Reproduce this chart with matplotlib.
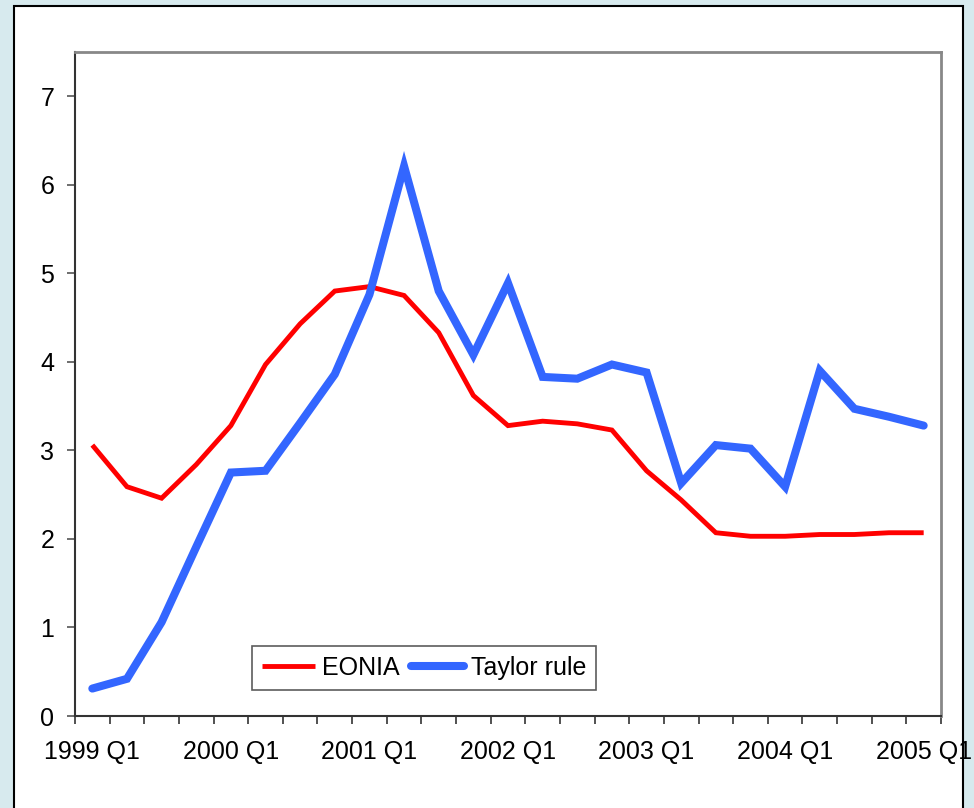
import numpy as np
import matplotlib.pyplot as plt
from matplotlib.patches import Rectangle

plt.rcParams['font.family'] = ['Liberation Sans', 'DejaVu Sans']

# quarters 1999 Q1 .. 2005 Q1
quarters = [f"{y} Q{q}" for y in range(1999, 2006) for q in range(1, 5)][:25]
eonia = [3.06, 2.59, 2.46, 2.84, 3.28, 3.97, 4.43, 4.80, 4.85, 4.75,
         4.33, 3.62, 3.28, 3.33, 3.30, 3.23, 2.77, 2.44, 2.07, 2.03,
         2.03, 2.05, 2.05, 2.07, 2.07]
taylor = [0.31, 0.42, 1.06, 1.91, 2.75, 2.77, 3.31, 3.86, 4.76, 6.21,
          4.80, 4.08, 4.89, 3.83, 3.81, 3.97, 3.88, 2.63, 3.06, 3.02,
          2.59, 3.90, 3.47, 3.38, 3.28]
label_every = 4

fig = plt.figure(figsize=(9.74, 8.08), dpi=100)
fig.patch.set_facecolor('#d7eaee')

# white chart panel (behind the axes)
panel = Rectangle((14 / 974, -0.01), (963 - 14) / 974, 1 - 6 / 808 + 0.01,
                  transform=fig.transFigure, facecolor='white',
                  edgecolor='black', linewidth=1.5, zorder=-1)
fig.patches.append(panel)

ax = fig.add_axes([75 / 974, 1 - 716 / 808, (941 - 75) / 974, (716 - 52) / 808])
x = np.arange(len(quarters))
ax.plot(x, eonia, color='#ff0000', linewidth=3.5, label='EONIA',
        solid_joinstyle='miter', solid_capstyle='butt')
ax.plot(x, taylor, color='#3366ff', linewidth=5.8, label='Taylor rule',
        solid_joinstyle='miter', solid_capstyle='round')

ax.set_xlim(-0.5, len(quarters) - 0.5)
ax.set_ylim(0, 7.5)
ax.set_yticks(range(0, 8))

# tick marks between categories, labels on every fourth category
ax.set_xticks(np.arange(-0.5, len(quarters), 1))
ax.set_xticklabels([])
ax.set_xticks(x[::label_every], minor=True)
ax.set_xticklabels([quarters[i] for i in x[::label_every]], minor=True)
ax.tick_params(axis='x', which='major', length=6, width=1.2, color='#333333')
ax.tick_params(axis='x', which='minor', length=0, pad=17, labelsize=18)
ax.tick_params(axis='y', length=6, width=1.2, color='#555555', pad=9, labelsize=18)

for side in ['top', 'right']:
    ax.spines[side].set_color('#888888')
    ax.spines[side].set_linewidth(2)
for side in ['left', 'bottom']:
    ax.spines[side].set_color('#333333')
    ax.spines[side].set_linewidth(1.5)

leg = ax.legend(loc='lower left', bbox_to_anchor=(0.204, 0.039), ncol=2,
                fontsize=18, frameon=True, fancybox=False, edgecolor='#333333',
                handlelength=2.15, handletextpad=0.25, columnspacing=0.45,
                borderpad=0.4, borderaxespad=0)
leg.get_frame().set_linewidth(1.2)

fig.savefig('out.png', dpi=100, facecolor=fig.get_facecolor())
